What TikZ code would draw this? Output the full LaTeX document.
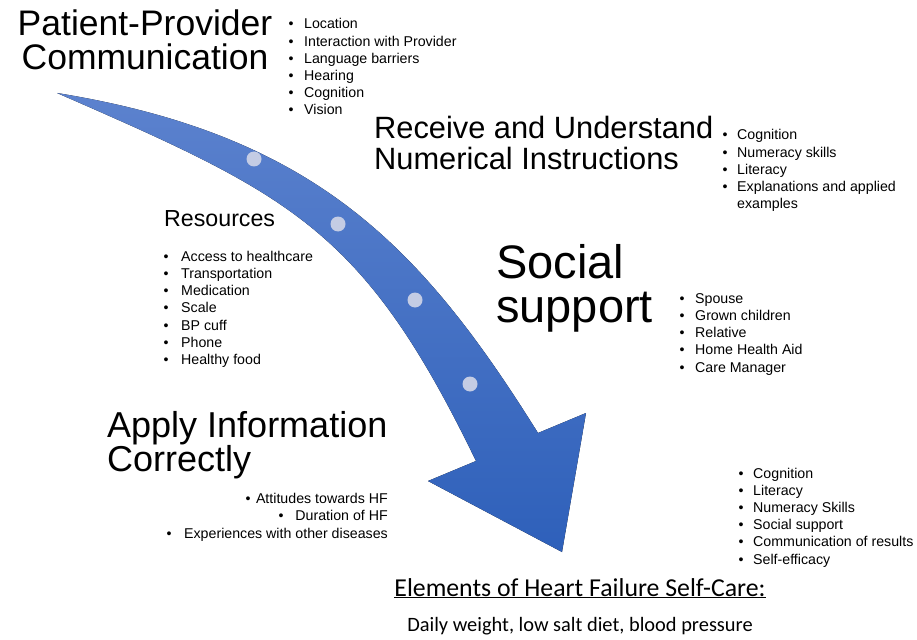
\documentclass[tikz,border=0pt]{standalone}
\usepackage{fontspec}
\setmainfont{Liberation Sans}
\newfontfamily\calib{Carlito}
\definecolor{arrowTop}{RGB}{92,130,206}
\definecolor{arrowBot}{RGB}{46,96,186}
\definecolor{dotc}{RGB}{196,204,228}
\tikzset{
  txt/.style={inner sep=0pt, anchor=base west},
  sm/.style={txt, font=\fontsize{14.2}{17}\selectfont},
  smr/.style={sm, anchor=base east},
  bul/.style={inner sep=0pt, anchor=base, font=\fontsize{14.2}{17}\selectfont},
  hA/.style={inner sep=0pt, anchor=base, font=\fontsize{35.5}{40}\selectfont},
  hB/.style={txt, font=\fontsize{30.8}{34}\selectfont},
  hC/.style={txt, font=\fontsize{23.2}{26}\selectfont},
  hD/.style={txt, font=\fontsize{47}{52}\selectfont},
  hE/.style={txt, font=\fontsize{36}{40}\selectfont},
  dotmark/.style={fill=dotc}
}
\begin{document}
\begin{tikzpicture}[x=1pt,y=-1pt]
\useasboundingbox (0,0) rectangle (917,639);

% curved arrow
\fill[top color=arrowTop, bottom color=arrowBot]
  (57,93) .. controls (315.6,134.9) and (421.8,247) .. (538,433)
  -- (586,413) -- (562,552) -- (428,481) -- (476,461)
  .. controls (363.2,228.1) and (291.3,195.3) .. (57,93) -- cycle;
\foreach \p in {(254,159),(338,224),(415,300),(470,384)}
  \fill[dotmark] \p circle (7.5pt);

% Patient-Provider Communication
\node[hA] (pp1) at (145,36) {Patient-Provider};
\node[hA] (pp2) at (145,70) {Communication};
\foreach \t [count=\i] in {Location, Interaction with Provider, Language barriers, Hearing, Cognition, Vision}{
  \node[bul] (pb\i) at (291,{29+17.2*(\i-1)}) {\textbullet};
  \node[sm] (pt\i) at (304,{29+17.2*(\i-1)}) {\t};
}

% Receive and Understand
\node[hB] (ru1) at (374,139) {Receive and Understand};
\node[hB] (ru2) at (374,169) {Numerical Instructions};
\foreach \t [count=\i] in {Cognition, Numeracy skills, Literacy, Explanations and applied}{
  \node[bul] (rb\i) at (725,{140+17.2*(\i-1)}) {\textbullet};
  \node[sm] (rt\i) at (737,{140+17.2*(\i-1)}) {\t};
}
\node[sm] (rt5) at (737,{140+17.2*4}) {examples};

% Resources
\node[hC] (res) at (164,226) {Resources};
\foreach \t [count=\i] in {Access to healthcare, Transportation, Medication, Scale, BP cuff, Phone, Healthy food}{
  \node[bul] (sb\i) at (166,{261+17.3*(\i-1)}) {\textbullet};
  \node[sm] (st\i) at (181,{261+17.3*(\i-1)}) {\t};
}

% Social support
\node[hD] (so1) at (496,278) {Social};
\node[hD] (so2) at (496,322) {support};
\foreach \t [count=\i] in {Spouse, Grown children, Relative, Home Health Aid, Care Manager}{
  \node[bul] (ob\i) at (682,{303+17.3*(\i-1)}) {\textbullet};
  \node[sm] (ot\i) at (695,{303+17.3*(\i-1)}) {\t};
}

% Apply Information Correctly
\node[hE] (ap1) at (107,437) {Apply Information};
\node[hE] (ap2) at (107,471) {Correctly};
\node[bul] (ab1) at (248,503) {\textbullet};
\node[smr] (at1) at (388,503) {Attitudes towards HF};
\node[bul] (ab2) at (281,520.5) {\textbullet};
\node[smr] (at2) at (388,520.5) {Duration of HF};
\node[bul] (ab3) at (169,538) {\textbullet};
\node[smr] (at3) at (388,538) {Experiences with other diseases};

% Factors
\foreach \t [count=\i] in {Cognition, Literacy, Numeracy Skills, Social support, Communication of results, Self-efficacy}{
  \node[bul] (fb\i) at (741,{478+17.2*(\i-1)}) {\textbullet};
  \node[sm] (ft\i) at (753,{478+17.2*(\i-1)}) {\t};
}

% Elements
\node[inner sep=0pt, anchor=base, font=\calib\fontsize{25.8}{30}\selectfont] (el) at (580,596) {\underline{Elements of Heart Failure Self-Care:}};
\node[inner sep=0pt, anchor=base, font=\calib\fontsize{20.4}{24}\selectfont] (dw) at (580,631) {Daily weight, low salt diet, blood pressure};
\end{tikzpicture}
\end{document}
